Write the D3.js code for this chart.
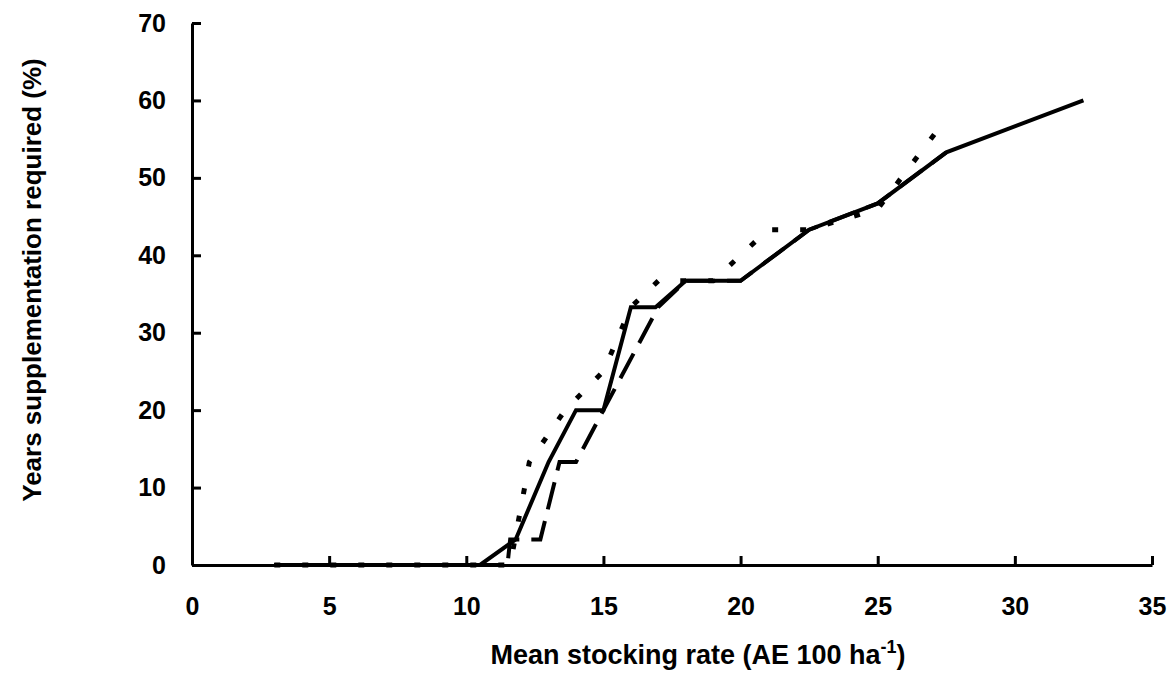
<!DOCTYPE html>
<html>
<head>
<meta charset="utf-8">
<script src="https://cdn.jsdelivr.net/npm/d3@7"></script>
<style>
  body { margin: 0; background: #fff; }
  text { font-family: "Liberation Sans", Arial, sans-serif; font-weight: bold; fill: #000; }
</style>
</head>
<body>
<svg width="1169" height="695"></svg>
<script>
// Tick values
const xTicks = [0, 5, 10, 15, 20, 25, 30, 35];
const yTicks = [0, 10, 20, 30, 40, 50, 60, 70];

// Solid series
const solidX = [3, 10.5, 11.8, 13, 14, 15, 16, 16.9, 18, 20, 22.5, 25, 27.5, 32.5];
const solidY = [0, 0, 3.3, 13.3, 20, 20, 33.3, 33.3, 36.7, 36.7, 43.3, 46.7, 53.3, 60];

// Long dash series
const dashX = [3, 11.5, 11.6, 12.7, 13.4, 14, 15, 17, 18, 20, 22.5, 25, 27.5];
const dashY = [0, 0, 3.3, 3.3, 13.3, 13.3, 20, 33.3, 36.7, 36.7, 43.3, 46.7, 53.3];

// Short dash (dotted) series
const dotX = [3, 11.6, 12.3, 13.6, 15, 16, 17, 19, 21, 22.5, 25, 27.3];
const dotY = [0, 0, 13.3, 20, 25, 33.3, 36.7, 36.7, 43.3, 43.3, 46, 56.7];

const svg = d3.select("svg");

// Scales
const x = d3.scaleLinear().domain([0, 35]).range([192, 1152]);
const y = d3.scaleLinear().domain([0, 70]).range([565, 23]);

// Lines
const line = d3.line().x(d => x(d[0])).y(d => y(d[1]));

const series = [
  { xs: dotX, ys: dotY, dash: "6,22", w: 5 },
  { xs: dashX, ys: dashY, dash: "28,12", w: 4 },
  { xs: solidX, ys: solidY, dash: null, w: 4 }
];

series.forEach(s => {
  svg.append("path")
    .datum(s.xs.map((v, i) => [v, s.ys[i]]))
    .attr("d", line)
    .attr("fill", "none")
    .attr("stroke", "#000")
    .attr("stroke-width", s.w)
    .attr("stroke-dasharray", s.dash)
    .attr("stroke-linejoin", "miter");
});

// X axis
const xAxis = svg.append("g")
  .attr("transform", `translate(0,${y(0)})`)
  .call(d3.axisBottom(x).tickValues(xTicks).tickSizeInner(-9).tickSizeOuter(0).tickPadding(32));

// Y axis
const yAxis = svg.append("g")
  .attr("transform", `translate(${x(0)},0)`)
  .call(d3.axisLeft(y).tickValues(yTicks).tickSizeInner(-9).tickSizeOuter(0).tickPadding(26));

[xAxis, yAxis].forEach(g => {
  g.select(".domain").attr("stroke", "#000").attr("stroke-width", 3);
  g.selectAll(".tick line").attr("stroke", "#000").attr("stroke-width", 3);
  g.selectAll(".tick text")
    .style("font-size", "25px")
    .style("font-family", "'Liberation Sans', Arial, sans-serif")
    .style("font-weight", "bold");
});

// Y axis title
svg.append("text")
  .attr("transform", "translate(41,280) rotate(-90)")
  .attr("text-anchor", "middle")
  .style("font-size", "26px")
  .text("Years supplementation required (%)");

// X axis title with superscript
const xt = svg.append("text")
  .attr("x", 698)
  .attr("y", 664)
  .attr("text-anchor", "middle")
  .style("font-size", "27px");
xt.append("tspan").text("Mean stocking rate (AE 100 ha");
xt.append("tspan").attr("dy", -11).style("font-size", "18px").text("-1");
xt.append("tspan").attr("dy", 11).text(")");
</script>
</body>
</html>
